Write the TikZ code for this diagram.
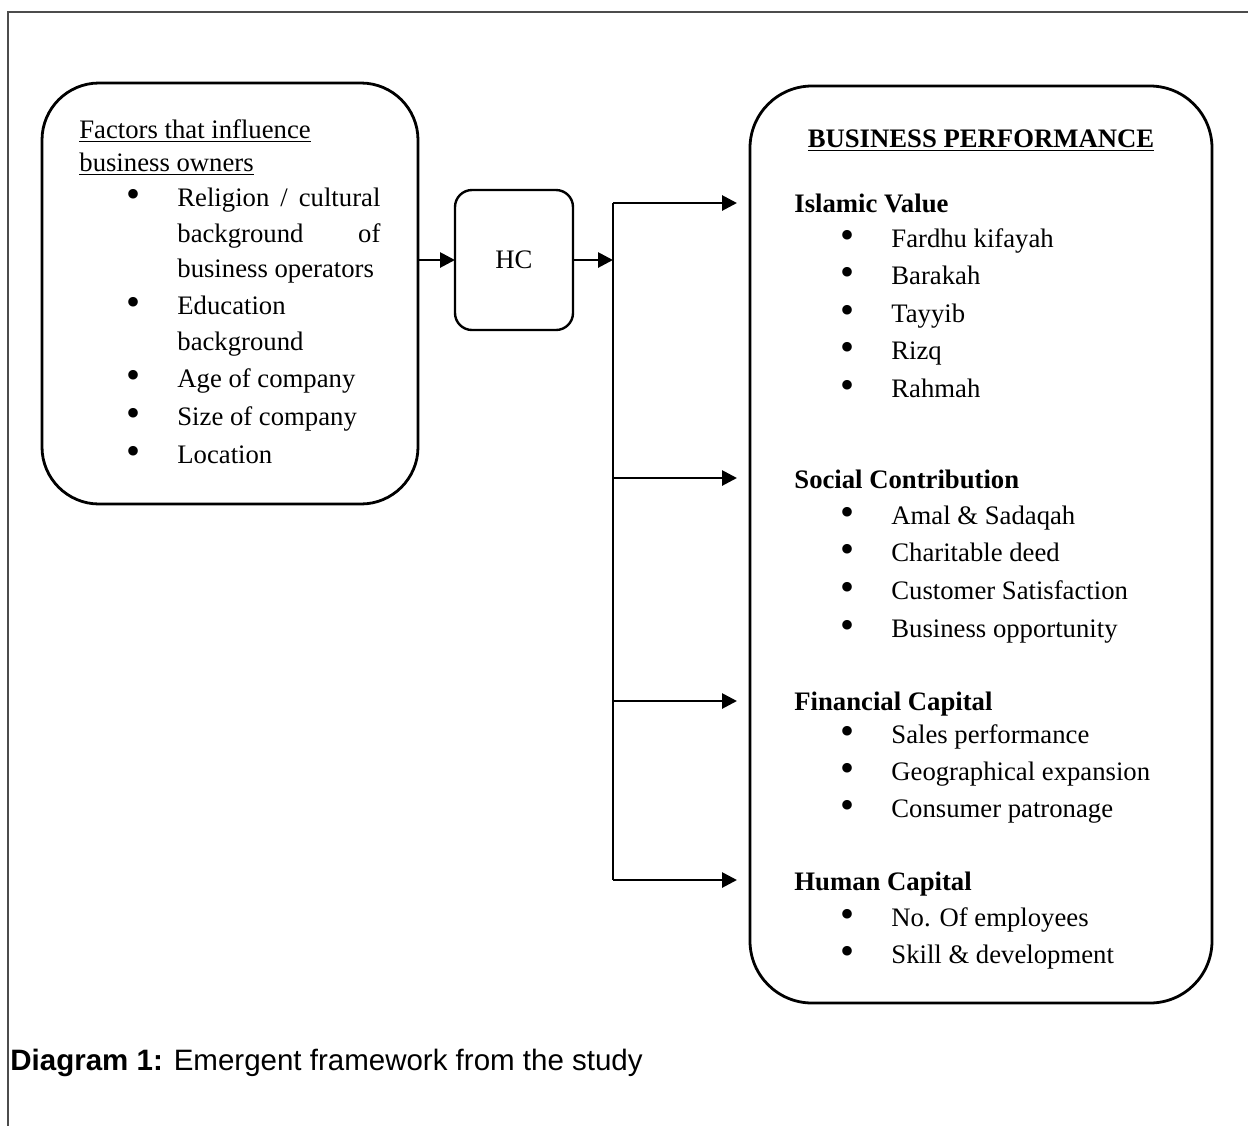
\documentclass[tikz,border=0pt]{standalone}
\usepackage{fontspec}
\setmainfont{Liberation Serif}
\newfontfamily\captionsans{Liberation Sans}
\usetikzlibrary{arrows.meta}
\newcommand{\bodyfont}{\fontsize{13.35}{16}\selectfont}
\newcommand{\captionfont}{\captionsans\fontsize{14.75}{18}\selectfont}
\newcommand{\bigbullet}{\raisebox{-0.8pt}{\scalebox{1.5}{\textbullet}}}
\tikzset{
  framebox/.style={draw, line width=1.4pt, rounded corners=#1, inner sep=0pt, outer sep=0pt},
  framebox/.default=28pt,
  conn/.style={line width=1.4pt, -{Triangle[length=7.5pt,width=7.5pt]}},
  txt/.style={anchor=base west, inner sep=0pt, font=\bodyfont},
  blt/.style={anchor=base, inner sep=0pt, font=\bodyfont},
}
\begin{document}
\begin{tikzpicture}[x=0.5pt, y=-0.5pt]
    \useasboundingbox (0,0) rectangle (1248,1126);
    % page frame
    \draw[line width=0.9pt, gray!60!black] (1248,12) -- (8,12) -- (8,1126);

    % boxes
    \node[framebox=28.5pt, minimum width=188pt, minimum height=210.5pt] (factors) at (230,293.5) {};
    \node[framebox=8.5pt, line width=1.2pt, minimum width=59pt, minimum height=70pt, font=\bodyfont] (hc) at (514,260) {HC};
    \node[framebox=31pt, minimum width=231pt, minimum height=458.5pt] (perf) at (981,544.5) {};

    % factors list
    \node[txt] (fachead1) at (79,138) {\underline{Factors that influence}};
    \node[txt] (fachead2) at (79,171) {\underline{business owners}};
    \node[txt] (fac1a) at (177,206) {\makebox[101.5pt][s]{Religion / cultural}};
    \node[txt] (fac1b) at (177,242) {\makebox[101.5pt][s]{background of}};
    \node[txt] (fac1c) at (177,277) {business operators};
    \foreach \y/\t [count=\i from 2] in {314/Education, 350/background, 387/Age of company, 425/Size of company, 463/Location}
        \node[txt] (fac\i) at (177,\y) {\t};
    \foreach \y [count=\i] in {206,314,387,425,463}
        \node[blt] (facb\i) at (134,\y) {\bigbullet};

    % performance list
    \node[blt, font=\bodyfont\bfseries] (perfhead) at (981,147) {\underline{BUSINESS PERFORMANCE}};
    \foreach \y/\t [count=\i] in {212/Islamic Value, 488/Social Contribution, 710/Financial Capital, 890/Human Capital}
        \node[txt, font=\bodyfont\bfseries] (grp\i) at (794,\y) {\t};
    \foreach \y/\t [count=\i] in {247/Fardhu kifayah, 284/Barakah, 322/Tayyib, 359/Rizq, 397/Rahmah,
        524/Amal \& Sadaqah, 561/Charitable deed, 599/Customer Satisfaction, 637/Business opportunity,
        743/Sales performance, 780/Geographical expansion, 817/Consumer patronage,
        926/No. Of employees, 963/Skill \& development}
    {
        \node[txt] (item\i) at (891,\y) {\t};
        \node[blt] (itemb\i) at (848,\y) {\bigbullet};
    }

    % connectors
    \draw[conn] (hc.west -| factors.east) -- (hc.west);
    \coordinate (top) at (613,203);
    \coordinate (bottom) at (613,880);
    \draw[conn] (hc.east) -- (hc.east -| top);
    \draw[line width=0.9pt] (top) -- (bottom);
    \foreach \y [count=\i] in {203,478,701,880} {
        \coordinate (br\i) at (613,\y);
        \draw[conn, shorten >=6.5pt] (br\i) -- (br\i -| perf.west);
    }

    % caption
    \node[anchor=base west, inner sep=0pt, font=\captionfont] (caption) at (10,1070) {\textbf{Diagram 1:} Emergent framework from the study};
\end{tikzpicture}
\end{document}
